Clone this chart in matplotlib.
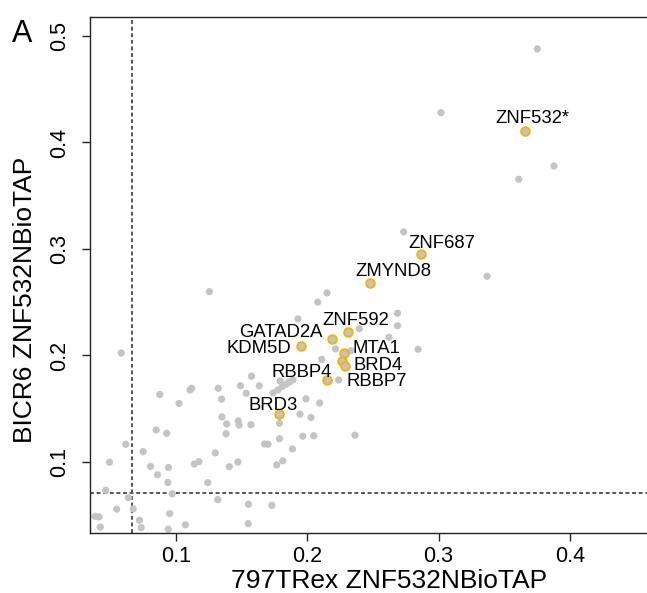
import matplotlib
matplotlib.use("Agg")
import matplotlib.pyplot as plt

plt.rcParams['font.family'] = ['Liberation Sans', 'DejaVu Sans']

# background proteins (grey)
bg_x = [0.3752, 0.3018, 0.3879, 0.3610, 0.2734, 0.3369, 0.2150, 0.1254, 0.2079, 0.1929,
        0.2687, 0.2687, 0.2396, 0.2622, 0.2215, 0.2333, 0.2843, 0.2110, 0.2238, 0.0583,
        0.1575, 0.1792, 0.1739, 0.1777, 0.1811, 0.1838, 0.1864, 0.1891, 0.1491, 0.1634,
        0.1535, 0.1322, 0.1120, 0.1107, 0.0876, 0.1023, 0.1347, 0.1990, 0.2094, 0.1944,
        0.2028, 0.1350, 0.1386, 0.1474, 0.1480, 0.1571, 0.1788, 0.0849, 0.0929, 0.1381,
        0.1788, 0.1965, 0.2049, 0.2363, 0.1674, 0.1701, 0.1887, 0.0617, 0.0750, 0.1299,
        0.0494, 0.1139, 0.1175, 0.1471, 0.1406, 0.1767, 0.1813, 0.0806, 0.0943, 0.0859,
        0.0938, 0.1241, 0.0971, 0.0465, 0.0638, 0.1318, 0.1552, 0.1730, 0.0548, 0.0674,
        0.0952, 0.0383, 0.0414, 0.0722, 0.1072, 0.1550, 0.0423, 0.0735, 0.0941]
bg_y = [0.4878, 0.4280, 0.3779, 0.3654, 0.3160, 0.2744, 0.2587, 0.2599, 0.2500, 0.2343,
        0.2396, 0.2280, 0.2252, 0.2171, 0.2061, 0.2045, 0.2058, 0.1964, 0.1770, 0.2023,
        0.1806, 0.1761, 0.1648, 0.1676, 0.1709, 0.1730, 0.1751, 0.1770, 0.1716, 0.1715,
        0.1645, 0.1692, 0.1692, 0.1676, 0.1634, 0.1549, 0.1590, 0.1593, 0.1554, 0.1449,
        0.1418, 0.1423, 0.1357, 0.1385, 0.1347, 0.1350, 0.1363, 0.1300, 0.1269, 0.1265,
        0.1219, 0.1242, 0.1246, 0.1251, 0.1169, 0.1167, 0.1122, 0.1166, 0.1097, 0.1085,
        0.0997, 0.0981, 0.1003, 0.1000, 0.0956, 0.0972, 0.1011, 0.0958, 0.0948, 0.0880,
        0.0808, 0.0806, 0.0702, 0.0734, 0.0665, 0.0646, 0.0603, 0.0593, 0.0557, 0.0559,
        0.0515, 0.0490, 0.0484, 0.0453, 0.0410, 0.0420, 0.0388, 0.0383, 0.0368]

# highlighted proteins
hits = ['ZNF532*', 'ZNF687', 'ZMYND8', 'ZNF592', 'GATAD2A', 'KDM5D',
        'MTA1', 'BRD4', 'RBBP7', 'RBBP4', 'BRD3']
hit_x = [0.3658, 0.2868, 0.2478, 0.2312, 0.2190, 0.1952, 0.2282, 0.2262, 0.2285, 0.2148, 0.1781]
hit_y = [0.4111, 0.2950, 0.2685, 0.2218, 0.2153, 0.2087, 0.2019, 0.1948, 0.1901, 0.1768, 0.1446]

x_cut = 0.0665
y_cut = 0.0706

# label placement: (dx px, dy px to baseline, ha)
label_pos = {
    'ZNF532*': (7, 8, 'center'),
    'ZNF687': (21, 6, 'center'),
    'ZMYND8': (23, 6.5, 'center'),
    'ZNF592': (7.5, 7.3, 'center'),
    'GATAD2A': (-10, 2.5, 'right'),
    'KDM5D': (-9.5, -7, 'right'),
    'MTA1': (8, 0.2, 'left'),
    'BRD4': (11.5, -9, 'left'),
    'RBBP7': (1.5, -20, 'left'),
    'RBBP4': (5.6, 3.5, 'right'),
    'BRD3': (-5.2, 4.5, 'center'),
}

fig = plt.figure(figsize=(6.47, 5.93), dpi=100)
# plot box runs past the right edge of the image, as in the original crop
ax = fig.add_axes([90 / 647, 60 / 593, 620 / 647, 516 / 593])

ax.scatter(bg_x, bg_y, s=27, color='#c4c4c4', edgecolors='none', zorder=2)
ax.scatter(hit_x, hit_y, s=38, color='#c4c4c4', edgecolors='#f4b20c', linewidths=1.4, zorder=3)

ax.axvline(x_cut, color='#555555', lw=1.4, ls=(0, (2.0, 1.4)), zorder=1)
ax.axhline(y_cut, color='#555555', lw=1.4, ls=(0, (2.0, 1.4)), zorder=1)

for name, x, y in zip(hits, hit_x, hit_y):
    dx, dy, ha = label_pos[name]
    ax.annotate(name, (x, y), xytext=(dx, dy), textcoords='offset pixels',
                ha=ha, va='baseline', fontsize=13.3, color='black', zorder=4)

ax.set_xlim(0.0345, 0.0345 + 620 / 1313)
ax.set_ylim(0.0333, 0.0333 + 516 / 1065)

ax.set_xticks([0.1, 0.2, 0.3, 0.4])
ax.set_xticklabels(['0.1', '0.2', '0.3', '0.4'])
ax.set_yticks([0.1, 0.2, 0.3, 0.4, 0.5])
ax.set_yticklabels(['0.1', '0.2', '0.3', '0.4', '0.5'], rotation=90, va='center')
ax.tick_params(axis='both', direction='out', length=5.5, width=1, labelsize=15.5, color='#222222')
ax.tick_params(axis='x', pad=4)
ax.tick_params(axis='y', pad=9)

for sp in ax.spines.values():
    sp.set_color('#222222')
    sp.set_linewidth(1)

fig.text(389 / 647, 1 - 581 / 593, '797TRex ZNF532NBioTAP', ha='center', va='center', fontsize=19)
fig.text(25 / 647, 1 - 300 / 593, 'BICR6 ZNF532NBioTAP', rotation=90,
         ha='center', va='center', fontsize=19)
fig.text(12 / 647, 1 - 42 / 593, 'A', fontsize=22, ha='left', va='baseline')

fig.savefig('out.png', dpi=100)
